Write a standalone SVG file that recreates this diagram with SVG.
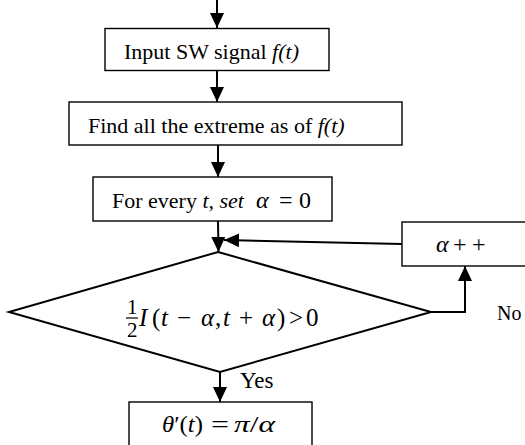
<svg xmlns="http://www.w3.org/2000/svg" width="525" height="445" viewBox="0 0 525 445">
<style>
.box{fill:#fff;stroke:#000;stroke-width:1.4}
.dia{fill:#fff;stroke:#000;stroke-width:2}
.ln{fill:none;stroke:#000;stroke-width:2}
text{font-family:"Liberation Serif","Times New Roman",serif;font-size:22px;fill:#000}
.it{font-style:italic}
.m{font-size:24px}
</style>
<defs>
<marker id="ah" markerUnits="userSpaceOnUse" markerWidth="16" markerHeight="16" viewBox="0 0 16 16" refX="15" refY="8" orient="auto">
<path d="M0,1 L15,8 L0,15 Z" fill="#000"/>
</marker>
</defs>
<g id="connectors">
<path class="ln" d="M217,0 L217,28" marker-end="url(#ah)"/>
<path class="ln" d="M217,71 L217,102" marker-end="url(#ah)"/>
<path class="ln" d="M218,145 L218,177" marker-end="url(#ah)"/>
<path class="ln" d="M218,221 L218.5,252" marker-end="url(#ah)"/>
<path class="ln" d="M402,244 L224,240" marker-end="url(#ah)"/>
<path class="ln" d="M431,312 L465,312 L465,266" marker-end="url(#ah)"/>
<path class="ln" d="M220,372 L220,402" marker-end="url(#ah)"/>
<text x="240" y="388" style="font-size:23px">Yes</text>
<text x="497" y="320" style="font-size:20px">No</text>
</g>
<g id="input">
<rect class="box" x="105" y="28.5" width="224" height="42"/>
<text x="124" y="58.5">Input SW signal <tspan class="it">f(t)</tspan></text>
</g>
<g id="extrema">
<rect class="box" x="69" y="102" width="333" height="43"/>
<text x="88" y="132.5">Find all the extreme as of <tspan class="it">f(t)</tspan></text>
</g>
<g id="init">
<rect class="box" x="93" y="177" width="239" height="44"/>
<text x="112" y="208">For every <tspan class="it">t, set</tspan></text>
<text class="it m" x="256" y="208">α</text>
<text class="m" x="279" y="208">=</text>
<text class="m" x="299" y="208">0</text>
</g>
<g id="increment">
<rect class="box" x="402" y="222" width="130" height="44"/>
<text class="m" x="436" y="252"><tspan class="it">α</tspan><tspan x="453">+</tspan><tspan x="472">+</tspan></text>
</g>
<g id="decision">
<polygon class="dia" points="218,252 431,312 220,372 9,312"/>
<text x="127" y="314" style="font-size:21px">1</text>
<line x1="126" y1="318" x2="138" y2="318" stroke="#000" stroke-width="1.2"/>
<text x="127" y="337" style="font-size:21px">2</text>
<text y="326" style="font-size:25px"><tspan class="it" x="139">I</tspan><tspan x="152">(</tspan><tspan class="it" x="161">t</tspan><tspan x="177">−</tspan><tspan class="it" x="201">α</tspan><tspan x="215">,</tspan><tspan class="it" x="223">t</tspan><tspan x="239">+</tspan><tspan class="it" x="262">α</tspan><tspan x="277">)</tspan><tspan x="289">&gt;</tspan><tspan x="306">0</tspan></text>
</g>
<g id="result">
<rect class="box" x="129" y="402" width="183" height="50"/>
<text class="m" x="162" y="432" textLength="41" lengthAdjust="spacingAndGlyphs"><tspan class="it">θ</tspan>′(<tspan class="it">t</tspan>)</text>
<text class="m" x="211" y="432" textLength="18" lengthAdjust="spacingAndGlyphs">=</text>
<text class="m" x="234" y="432" textLength="41" lengthAdjust="spacingAndGlyphs"><tspan class="it">π</tspan>/<tspan class="it">α</tspan></text>
</g>
</svg>
